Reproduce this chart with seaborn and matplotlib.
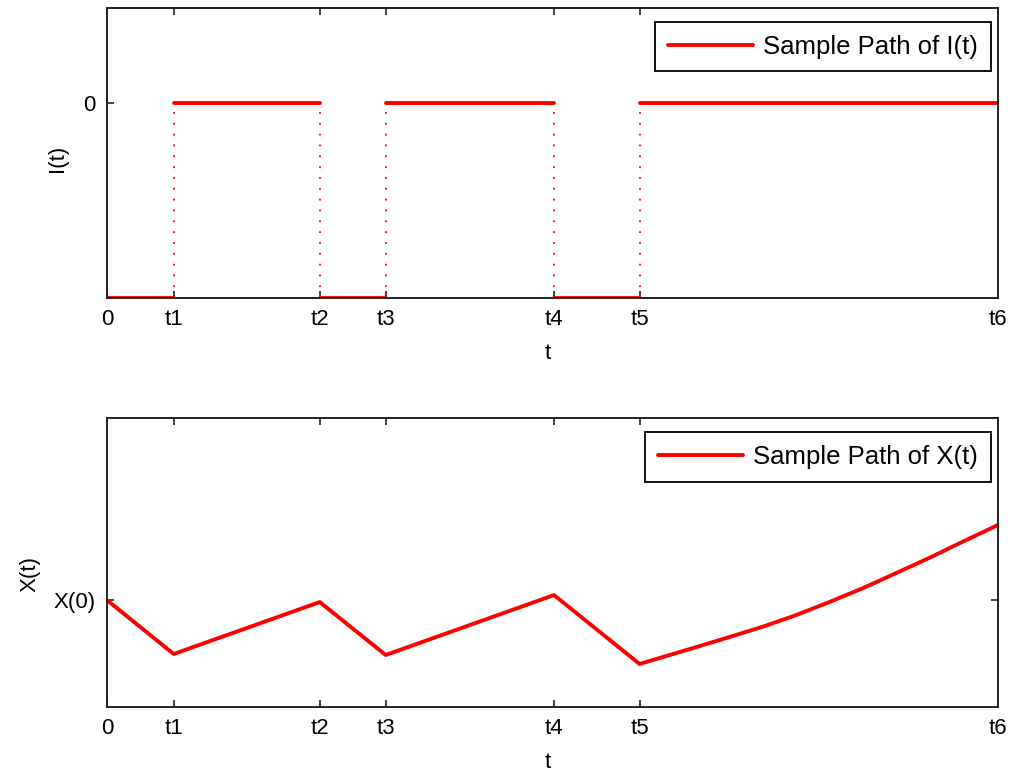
import numpy as np
import pandas as pd
import seaborn as sns
import matplotlib.pyplot as plt

# jump times (t1..t5) and end time t6
TICK_POS = [0.0, 0.75, 2.39, 3.13, 5.02, 5.98, 10.0]
TICK_LABELS = ["0", "t1", "t2", "t3", "t4", "t5", "t6"]

# I(t): level held on each interval [t_k, t_k+1)
I_LEVELS = [-1, 0, -1, 0, -1, 0]

# X(t): sample path points
X_T = [0.0, 0.75, 2.39, 3.13, 5.02, 5.98, 6.62, 6.99, 7.37, 7.74,
       8.11, 8.49, 8.86, 9.24, 9.61, 10.0]
X_VALS = [1.00, 0.46, 0.98, 0.45, 1.05, 0.36, 0.53, 0.63, 0.735, 0.85,
          0.98, 1.12, 1.27, 1.425, 1.585, 1.75]

sns.set_style("ticks")
plt.rcParams["font.family"] = ["Liberation Sans", "DejaVu Sans"]
plt.rcParams["font.size"] = 16
plt.rcParams["text.color"] = "black"
plt.rcParams["axes.labelcolor"] = "black"

RED = "#ff0000"

fig = plt.figure(figsize=(10.18, 7.76), dpi=100)
ax1 = fig.add_axes([0.105, 0.616, 0.875, 0.374])
ax2 = fig.add_axes([0.105, 0.089, 0.875, 0.372])

# ---- top panel: I(t) ----
seg_rows = []
for k, lev in enumerate(I_LEVELS):
    seg_rows.append({"t": TICK_POS[k], "I": lev, "seg": k})
    seg_rows.append({"t": TICK_POS[k + 1], "I": lev, "seg": k})
seg_df = pd.DataFrame(seg_rows)

sns.lineplot(data=seg_df, x="t", y="I", units="seg", estimator=None,
             color=RED, lw=2.8, ax=ax1, legend=False)
# dotted jumps
ax1.vlines(TICK_POS[1:6], -1, 0, colors=RED, lw=1.3, linestyles=(0, (1, 5)))
ax1.plot([], [], color=RED, lw=2.8, label="Sample Path of I(t)")

ax1.set_xlim(TICK_POS[0], TICK_POS[-1])
ax1.set_ylim(-1, 0.487)
ax1.set_yticks([0])
ax1.set_yticklabels(["0"])
ax1.set_ylabel("I(t)")
ax1.yaxis.set_label_coords(-0.044, 0.48)

# ---- bottom panel: X(t) ----
sns.lineplot(x=X_T, y=X_VALS, sort=False, estimator=None, color=RED,
             lw=2.8, ax=ax2, label="Sample Path of X(t)", legend=False)
ax2.set_xlim(TICK_POS[0], TICK_POS[-1])
ax2.set_ylim(-0.07, 2.82)
ax2.set_yticks([1.0])
ax2.set_yticklabels(["X(0)"])
ax2.set_ylabel("X(t)")
ax2.yaxis.set_label_coords(-0.075, 0.46)

for ax in (ax1, ax2):
    ax.set_xticks(TICK_POS)
    ax.set_xticklabels(TICK_LABELS)
    ax.set_xlabel("t")
    ax.xaxis.set_label_coords(0.495, -0.155)
    ax.tick_params(direction="in", length=5, width=1.2, top=True, right=True,
                   pad=8, colors="#222222", labelcolor="black")
    for sp in ax.spines.values():
        sp.set_linewidth(1.4)
        sp.set_color("#222222")
    leg = ax.legend(loc="upper right", bbox_to_anchor=(0.992, 0.952),
                    borderaxespad=0, fontsize=18.5, labelcolor="black",
                    handlelength=3.3, handletextpad=0.4, borderpad=0.5,
                    fancybox=False, framealpha=1, edgecolor="black")
    leg.get_frame().set_linewidth(1.3)

fig.savefig("out.png", dpi=100)
